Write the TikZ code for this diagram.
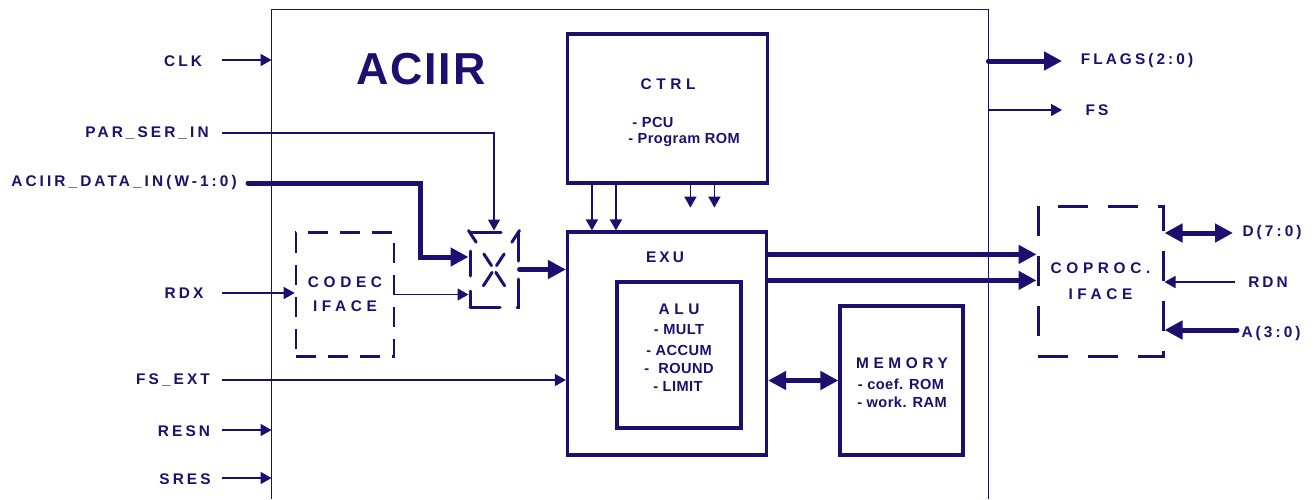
\documentclass[tikz,border=0pt]{standalone}
\usepackage{fontspec}
\setmainfont{Liberation Sans}
\newfontfamily\sigfont{Liberation Sans}[LetterSpace=20]
\newfontfamily\blkfont{Liberation Sans}[LetterSpace=30]
\newfontfamily\subfont{Liberation Sans}[LetterSpace=3]
\newfontfamily\bigfont{Liberation Sans}[LetterSpace=4]
\usetikzlibrary{arrows.meta}
\definecolor{ink}{RGB}{28,15,112}

\begin{document}
\begin{tikzpicture}[x=0.5pt,y=-0.5pt,
  every node/.style={text=ink,inner sep=0pt,font=\sigfont\bfseries\fontsize{7.7}{9}\selectfont},
  blk/.style={draw=ink,line width=1.6pt},
  dbox/.style={draw=ink,line width=1.3pt,align=center,dash pattern=on 10pt off 6pt,
    font=\blkfont\bfseries\fontsize{7.7}{12}\selectfont},
  ttl/.style={font=\blkfont\bfseries\fontsize{7.7}{9}\selectfont},
  sub/.style={font=\subfont\bfseries\fontsize{7.3}{9}\selectfont},
  sig/.style={draw=ink,line width=0.8pt,-{Triangle[length=5.5pt,width=6pt]}},
  bus/.style={draw=ink,line width=2.5pt,line cap=round,-{Triangle[length=9pt,width=9pt]}},
  bibus/.style={bus,{Triangle[length=9pt,width=9pt]}-{Triangle[length=9pt,width=9pt]}}]
  \useasboundingbox (0,0) rectangle (1316,499);

  % Frame
  \node[minimum width=358pt,minimum height=244.5pt] (aciir) at (630,254.5) {};
  \draw[ink,line width=0.85pt] (aciir.south west) |- (aciir.north east) -- (aciir.south east);
  \node[font=\bigfont\bfseries\fontsize{22.4}{26}\selectfont] (title) at (421,69) {ACIIR};

  % Blocks
  \node[blk,minimum width=100pt,minimum height=74.5pt] (ctrl) at (667.5,108.5) {};
  \node[ttl] (ctrl t) at (668,84) {CTRL};
  \node[sub] (pcu) at (653,122) {- PCU};
  \node[sub] (prom) at (684,140) {- Program ROM};

  \node[blk,minimum width=99.5pt,minimum height=111.5pt] (exu) at (667,343.5) {};
  \node[ttl,font=\sigfont\bfseries\fontsize{7.7}{9}\selectfont] (exu t) at (665,257) {EXU};

  \node[blk,minimum width=62pt,minimum height=73pt] (alu) at (679,355) {};
  \node[ttl] (alu t) at (679,309) {ALU};
  \node[sub] (mult) at (679,330) {- MULT};
  \node[sub] (accum) at (679,350) {-~ACCUM};
  \node[sub] (round) at (679,368) {-~~ROUND};
  \node[sub] (limit) at (678,386) {- LIMIT};

  \node[blk,minimum width=61.5pt,minimum height=74.5pt] (mem) at (901.5,380.5) {};
  \node[ttl] (mem t) at (902,363) {MEMORY};
  \node[sub] (coef) at (901,384) {- coef. ROM};
  \node[sub] (work) at (902,402) {- work. RAM};

  \node[dbox,minimum width=49pt,minimum height=62pt] (codec) at (345,294.5) {CODEC\\IFACE};
  \node[dbox,line width=1.5pt,dash pattern=on 15pt off 10pt,
    font=\blkfont\bfseries\fontsize{7.7}{13}\selectfont,
    minimum width=62.5pt,minimum height=75pt] (coproc) at (1100.5,281) {COPROC.\\IFACE};

  % Mux
  \node[draw=ink,line width=1.5pt,line cap=round,minimum width=24pt,minimum height=37.5pt,
    dash pattern=on 15pt off 8.5pt on 14.5pt off 9pt on 14pt off 9pt on 15pt off 10pt on 12.5pt off 7.5pt on 7.5pt off 0pt]
    (mux) at (494,269.5) {};
  \draw[ink,line width=1.5pt,line cap=round,dash pattern=on 7pt off 7pt on 7pt off 4pt on 8pt off 20pt]
    (mux.north west) -- (mux.south east) (mux.north east) -- (mux.south west);

  % Labels
  \node (clk) at (183,61) {CLK};
  \node (psi) at (147,133) {PAR\_SER\_IN};
  \node (din) at (124,183) {ACIIR\_DATA\_IN(W-1:0)};
  \node (rdx) at (184,293) {RDX};
  \node (fsx) at (173,380) {FS\_EXT};
  \node (resn) at (184,431) {RESN};
  \node (sres) at (185,479) {SRES};
  \node (flags) at (1137,61) {FLAGS(2:0)};
  \node (fs) at (1097,110) {FS};
  \node (d) at (1272,233) {D(7:0)};
  \node (rdn) at (1268,282) {RDN};
  \node (a) at (1271,334) {A(3:0)};

  % Free ends
  \coordinate (clk s) at (222,60);
  \coordinate (psi s) at (222,133);
  \coordinate (din s) at (248,183);
  \coordinate (din k) at (420,257);
  \coordinate (rdx s) at (222,293);
  \coordinate (fsx s) at (222,380);
  \coordinate (resn s) at (222,430);
  \coordinate (sres s) at (222,478);
  \coordinate (flags e) at (1062,61);
  \coordinate (fs e) at (1062,110);
  \coordinate (d e) at (1233,233);
  \coordinate (rdn s) at (1235,282);
  \coordinate (a s) at (1237,330);
  \coordinate (exu o1) at ([yshift=-12pt]exu.north east);
  \coordinate (exu o2) at ([yshift=-25pt]exu.north east);

  % Inputs
  \draw[sig] (clk s) -- (clk s -| aciir.west);
  \draw[sig] (psi s) -| (mux.north);
  \draw[bus] (din s) -| (din k) -- (din k -| mux.west);
  \draw[sig] (rdx s) -- (rdx s -| codec.west);
  \draw[sig] (codec.east) -- (codec.east -| mux.west);
  \draw[bus] (mux.east) -- (mux.east -| exu.west);
  \draw[sig] (fsx s) -- (fsx s -| exu.west);
  \draw[sig] (resn s) -- (resn s -| aciir.west);
  \draw[sig] (sres s) -- (sres s -| aciir.west);

  % Internal
  \foreach \dx in {13,25}
    \draw[sig] ([xshift=\dx pt]ctrl.south west) -- ([xshift=\dx pt]exu.north west);
  \foreach \dx in {62.25,74.25}
    \draw[sig] ([xshift=\dx pt]ctrl.south west) -- ++(0,23);
  \draw[bibus] (mem.west -| exu.east) -- (mem.west);
  \draw[bus] (exu o1) -- (exu o1 -| coproc.west);
  \draw[bus] (exu o2) -- (exu o2 -| coproc.west);

  % Outputs
  \draw[bus] (flags e -| aciir.east) -- (flags e);
  \draw[sig] (fs e -| aciir.east) -- (fs e);
  \draw[bibus] (d e -| coproc.east) -- (d e);
  \draw[sig] (rdn s) -- (rdn s -| coproc.east);
  \draw[bus] (a s) -- (a s -| coproc.east);
\end{tikzpicture}
\end{document}
